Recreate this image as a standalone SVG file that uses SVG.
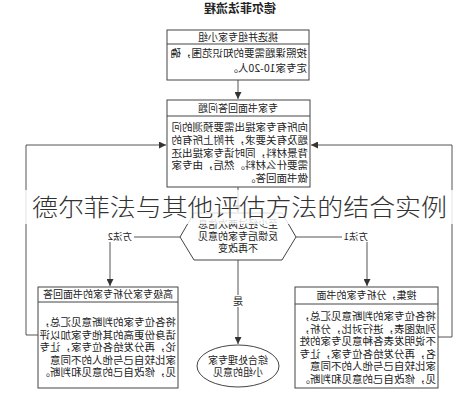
<svg xmlns="http://www.w3.org/2000/svg" width="476" height="400" viewBox="0 0 476 400">
<style>
text{font-family:"Noto Sans CJK SC","Noto Sans",sans-serif;fill:#222}
.box{fill:#fff;stroke:#444;stroke-width:1}
.div{stroke:#444;stroke-width:1}
.ln{fill:none;stroke:#555;stroke-width:1}
.h{font-size:10px;text-anchor:middle}
.b{font-size:10.5px}
.c{font-size:10px;text-anchor:middle}
.lab{font-size:9.5px}
</style>
<defs>
<marker id="ah" viewBox="0 0 8 8" refX="8" refY="4" markerWidth="7" markerHeight="7" markerUnits="userSpaceOnUse" orient="auto">
<path d="M0,0 L8,4 L0,8 Z" fill="#333"/>
</marker>
</defs>
<g id="diagram" transform="matrix(-1 0 0 1 476 0)">
<text id="title" x="236" y="13" style="font-size:12px;font-weight:bold;text-anchor:middle">德尔菲法流程</text>
<g id="connectors">
<path class="ln" d="M238,80 V99" marker-end="url(#ah)"/>
<path class="ln" d="M238,187 V212" marker-end="url(#ah)"/>
<path class="ln" d="M180,237 H109 V286" marker-end="url(#ah)"/>
<path class="ln" d="M296,237 H366 V286" marker-end="url(#ah)"/>
<path class="ln" d="M238,260 V344" marker-end="url(#ah)"/>
<path class="ln" d="M38,337 H24 V145 H165" marker-end="url(#ah)"/>
<path class="ln" d="M438,335 H450 V145 H310" marker-end="url(#ah)"/>
<rect x="106" y="231" width="28" height="11" fill="#fff"/>
<text class="lab" x="108" y="240">方法1</text>
<rect x="342" y="231" width="28" height="11" fill="#fff"/>
<text class="lab" x="344" y="240">方法2</text>
<rect x="232" y="295" width="12" height="12" fill="#fff"/>
<text class="c" x="238" y="305">是</text>
</g>
<g id="n1">
<rect class="box" x="167" y="30" width="142" height="50"/>
<line class="div" x1="167" y1="44" x2="309" y2="44"/>
<text class="h" x="238" y="41">挑选并组专家小组</text>
<text class="b" x="169" y="57">按照课题需要的知识范围，确</text>
<text class="b" x="169" y="72">定专家10-20人。</text>
</g>
<g id="n2">
<rect class="box" x="166" y="100" width="143" height="87"/>
<line class="div" x1="166" y1="116" x2="309" y2="116"/>
<text class="h" x="238" y="112">专家书面回答问题</text>
<text class="b" x="168" y="131">向所有专家提出需要预测的问</text>
<text class="b" x="168" y="143.8">题及有关要求，并附上所有的</text>
<text class="b" x="168" y="156.6">背景材料，同时请专家提出还</text>
<text class="b" x="168" y="169.4">需要什么材料。然后，由专家</text>
<text class="b" x="168" y="182.2">做书面回答。</text>
</g>
<g id="n3">
<polygon class="box" points="180,237 194,213 282,213 296,237 282,260 194,260"/>
<text class="c" x="238" y="228">至少经过两次信息</text>
<text class="c" x="238" y="240">反馈后专家的意见</text>
<text class="c" x="238" y="252">不再改变</text>
</g>
<g id="n4">
<rect class="box" x="38" y="287" width="143" height="101"/>
<line class="div" x1="38" y1="304" x2="181" y2="304"/>
<text class="h" x="109.5" y="299">搜集，分析专家的书面</text>
<text class="b" x="40" y="320">将各位专家的判断意见汇总，</text>
<text class="b" x="40" y="332.5">列成图表，进行对比，分析，</text>
<text class="b" x="40" y="345">不说明发表各种意见专家的姓</text>
<text class="b" x="40" y="357.5">名，再分发给各位专家，让专</text>
<text class="b" x="40" y="370">家比较自己与他人的不同意</text>
<text class="b" x="40" y="382.5">见，修改自己的意见和判断。</text>
</g>
<g id="n5">
<rect class="box" x="298" y="287" width="140" height="101"/>
<line class="div" x1="298" y1="302" x2="438" y2="302"/>
<text class="h" x="368" y="298">高级专家分析专家的书面回答</text>
<text class="b" x="300" y="326">将各位专家的判断意见汇总，</text>
<text class="b" x="300" y="338.5">请身份更高的其他专家加以评</text>
<text class="b" x="300" y="351">论，再分发给各位专家，让专</text>
<text class="b" x="300" y="363.5">家比较自己与他人的不同意</text>
<text class="b" x="300" y="376">见，修改自己的意见和判断。</text>
</g>
<g id="n6">
<ellipse class="box" cx="238" cy="366" rx="41" ry="21"/>
<text class="c" x="238" y="364">综合处理专家</text>
<text class="c" x="238" y="376">小组的意见</text>
</g>
</g>
<g id="caption">
<rect x="18" y="190" width="442" height="34" fill="#fff" opacity="0.82"/>
<text x="32" y="216" textLength="415" lengthAdjust="spacingAndGlyphs" style="font-size:24px;font-weight:300;fill:#333">德尔菲法与其他评估方法的结合实例</text>
</g>
</svg>
